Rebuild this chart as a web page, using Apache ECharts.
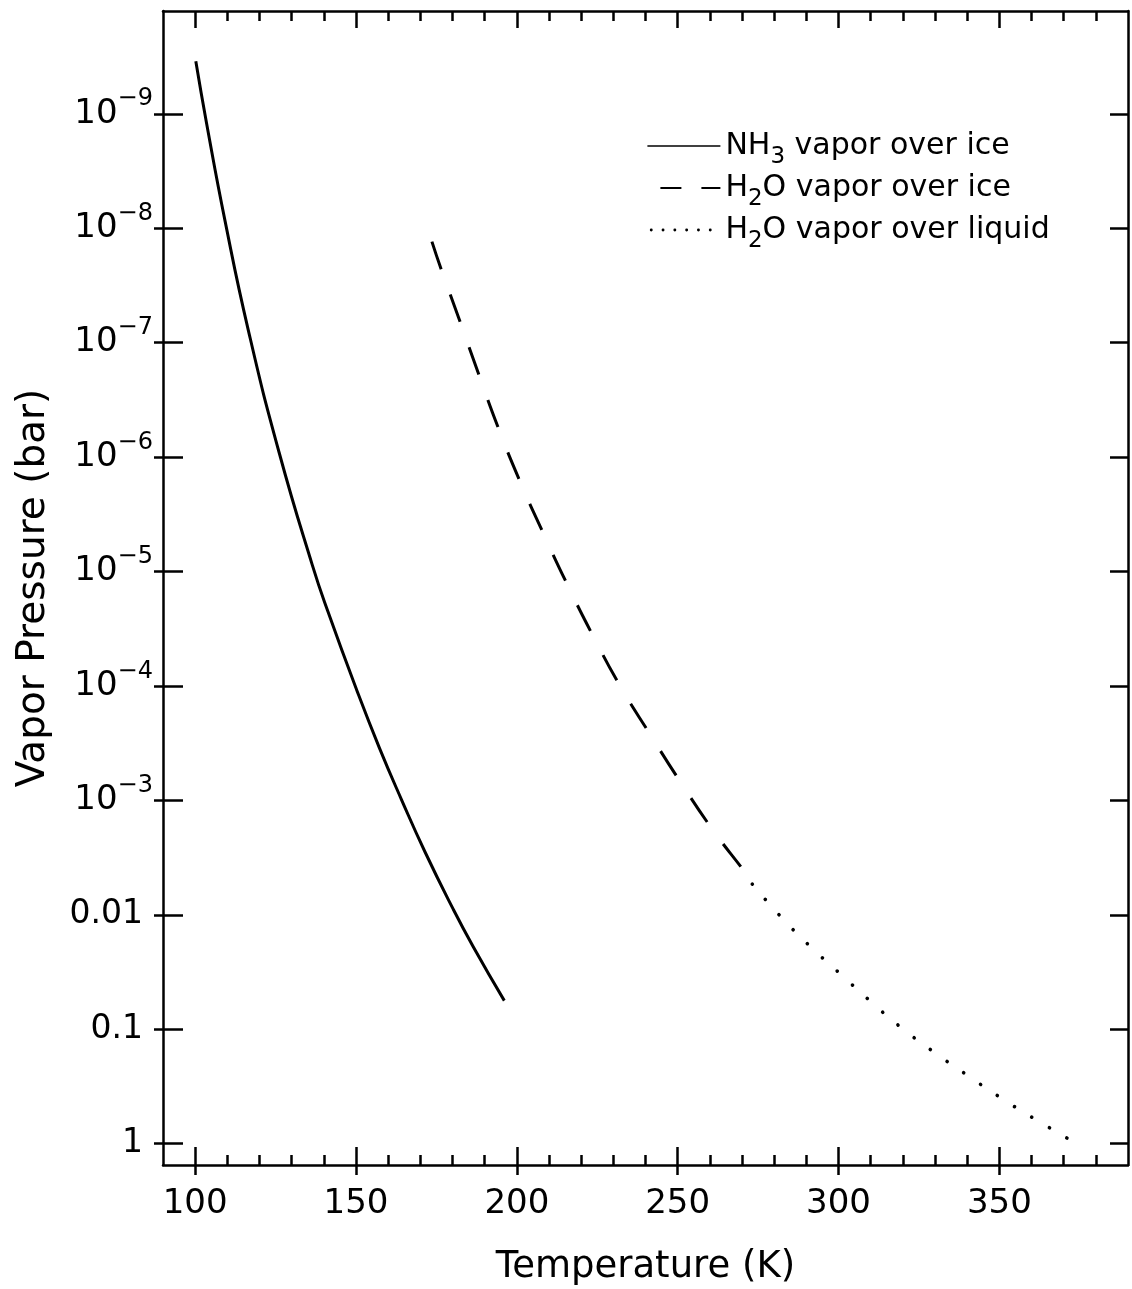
<!DOCTYPE html>
<html>
<head>
<meta charset="utf-8">
<script src="https://cdn.jsdelivr.net/npm/echarts@6/dist/echarts.min.js"></script>
<style>
html,body{margin:0;padding:0;background:#fff;}
#chart{width:1132px;height:1289px;}
</style>
</head>
<body>
<div id="chart"></div>
<script>
// ---- data ----
const seriesNames = ['NH3 vapor over ice', 'H2O vapor over ice', 'H2O vapor over liquid'];

const nh3Temperature = [100.2, 103.5, 109.3, 116.6, 126.1, 136.4, 141.3, 150.3, 157.3, 164.2, 171.5, 180.1, 186.4, 196.1];
const nh3Pressure    = [3.48e-10, 1.19e-9, 8.67e-9, 7.96e-8, 9.12e-7, 8.75e-6, 2.25e-5, 1.10e-4, 3.49e-4, 9.93e-4, 2.84e-3, 8.79e-3, 1.89e-2, 5.62e-2];

const h2oIceTemperature = [173.6, 176.4, 182.4, 188.2, 194.3, 201.1, 208.3, 215.7, 223.8, 232.2, 241.5, 251.0, 261.1, 271.9, 273.2];
const h2oIcePressure    = [1.31e-8, 2.25e-8, 6.62e-8, 1.91e-7, 5.62e-7, 1.66e-6, 4.68e-6, 1.30e-5, 3.70e-5, 1.01e-4, 2.67e-4, 7.01e-4, 1.84e-3, 4.63e-3, 5.4e-3];

const h2oLiquidTemperature = [273.2, 282.5, 291.3, 300.6, 309.8, 319.1, 329.2, 339.4, 349.7, 360.2, 371.1];
const h2oLiquidPressure    = [5.4e-3, 1.07e-2, 1.90e-2, 3.29e-2, 5.65e-2, 9.48e-2, 0.155, 0.245, 0.385, 0.589, 0.895];

const xRange = [90, 390];
const yRange = [1.265e-10, 1.535];
const xMajorTicks = [100, 150, 200, 250, 300, 350];
const xMinorTicks = [110, 120, 130, 140, 160, 170, 180, 190, 210, 220, 230, 240, 260, 270, 280, 290, 310, 320, 330, 340, 360, 370, 380];
const yTicks = [1e-9, 1e-8, 1e-7, 1e-6, 1e-5, 1e-4, 1e-3, 0.01, 0.1, 1];
const yTickLabels = ['10^\u22129', '10^\u22128', '10^\u22127', '10^\u22126', '10^\u22125', '10^\u22124', '10^\u22123', '0.01', '0.1', '1'];

// ---- chart ----
const FONT = 'DejaVu Sans';
const BLACK = '#000';
const zip = (a, b) => a.map((v, i) => [v, b[i]]);

function yLabel(value) {
  const e = Math.round(Math.log10(value));
  const idx = yTicks.findIndex(t => Math.round(Math.log10(t)) === e);
  if (idx < 0) return '';
  const s = yTickLabels[idx];
  if (s.indexOf('^') >= 0) {
    const parts = s.split('^');
    return '{b|' + parts[0] + '}{p|' + parts[1] + '}';
  }
  return '{n|' + s + '}';
}
function legendLabel(name) {
  if (name.indexOf('NH3') === 0) return '{n|NH}{s|3}{n|' + name.slice(3) + '}';
  return '{n|H}{s|2}{n|' + name.slice(2) + '}';
}

const tickStyle = {color: BLACK, width: 2.5};
const xBase = {type: 'value', min: xRange[0], max: xRange[1], splitLine: {show: false},
  axisLine: {show: false, onZero: false}, axisLabel: {show: false}, axisTick: {show: false}};
const yBase = {type: 'log', logBase: 10, min: yRange[0], max: yRange[1], inverse: true, splitLine: {show: false},
  axisLine: {show: false, onZero: false}, axisLabel: {show: false}, axisTick: {show: false}};

const option = {
  animation: false,
  backgroundColor: '#fff',
  grid: {left: 163, right: 4, top: 11, bottom: 124, containLabel: false, outerBoundsMode: 'none'},
  legend: {
    orient: 'vertical', left: 646, top: 127, padding: 0, itemGap: 0,
    itemWidth: 73, itemHeight: 12, align: 'left', selectedMode: false,
    formatter: legendLabel,
    itemStyle: {opacity: 0},
    textStyle: {
      color: BLACK, fontFamily: FONT,
      rich: {
        n: {fontSize: 30, fontFamily: FONT, color: BLACK, lineHeight: 38},
        s: {fontSize: 23, fontFamily: FONT, color: BLACK, lineHeight: 13, verticalAlign: 'top', padding: [19, 0, 0, 0]}
      }
    },
    data: [
      {name: seriesNames[0], itemStyle: {opacity: 0}, lineStyle: {width: 1.6}},
      {name: seriesNames[1], itemStyle: {opacity: 0}, lineStyle: {width: 2.2, type: [21, 20], dashOffset: 28}},
      {name: seriesNames[2], itemStyle: {opacity: 0}, lineStyle: {width: 2.8, type: [0.1, 11.7], dashOffset: 8, cap: 'round'}}
    ]
  },
  xAxis: [
    Object.assign({}, xBase, {
      position: 'bottom',
      axisLine: {show: true, onZero: false, lineStyle: {color: BLACK, width: 2.5}},
      axisTick: {show: true, inside: true, length: 18, customValues: xMajorTicks, lineStyle: tickStyle},
      axisLabel: {show: true, customValues: xMajorTicks, fontSize: 34, color: BLACK, fontFamily: FONT, margin: 22},
      name: 'Temperature (K)', nameLocation: 'middle', nameGap: 84,
      nameTextStyle: {fontSize: 37, color: BLACK, fontFamily: FONT}
    }),
    Object.assign({}, xBase, {position: 'bottom',
      axisTick: {show: true, inside: false, length: 10, customValues: xMajorTicks, lineStyle: tickStyle}}),
    Object.assign({}, xBase, {position: 'bottom',
      axisTick: {show: true, inside: true, length: 10, customValues: xMinorTicks, lineStyle: tickStyle}}),
    Object.assign({}, xBase, {position: 'top',
      axisLine: {show: true, onZero: false, lineStyle: {color: BLACK, width: 2.5}},
      axisTick: {show: true, inside: true, length: 17, customValues: xMajorTicks, lineStyle: tickStyle}}),
    Object.assign({}, xBase, {position: 'top',
      axisTick: {show: true, inside: true, length: 10, customValues: xMinorTicks, lineStyle: tickStyle}})
  ],
  yAxis: [
    Object.assign({}, yBase, {
      position: 'left',
      axisLine: {show: true, onZero: false, lineStyle: {color: BLACK, width: 2.5}},
      axisTick: {show: true, inside: true, length: 20, customValues: yTicks, lineStyle: tickStyle},
      axisLabel: {show: true, customValues: yTicks, formatter: yLabel, margin: 10, color: BLACK, fontFamily: FONT,
        rich: {
          b: {fontSize: 34, fontFamily: FONT, color: BLACK, lineHeight: 53},
          p: {fontSize: 24, fontFamily: FONT, color: BLACK, lineHeight: 18, verticalAlign: 'top'},
          n: {fontSize: 33, fontFamily: FONT, color: BLACK, padding: [0, 10, 0, 0]}
        }},
      name: 'Vapor Pressure (bar)', nameLocation: 'middle', nameGap: 110,
      nameTextStyle: {fontSize: 39, color: BLACK, fontFamily: FONT}
    }),
    Object.assign({}, yBase, {position: 'left',
      axisTick: {show: true, inside: false, length: 9, customValues: yTicks, lineStyle: tickStyle}}),
    Object.assign({}, yBase, {position: 'right',
      axisLine: {show: true, onZero: false, lineStyle: {color: BLACK, width: 2.5}},
      axisTick: {show: true, inside: true, length: 18, customValues: yTicks, lineStyle: tickStyle}})
  ],
  series: [
    {name: seriesNames[0], type: 'line', xAxisIndex: 0, yAxisIndex: 0, data: zip(nh3Temperature, nh3Pressure),
      symbol: 'none', smooth: true, color: BLACK, lineStyle: {color: BLACK, width: 3}},
    {name: seriesNames[1], type: 'line', xAxisIndex: 0, yAxisIndex: 0, data: zip(h2oIceTemperature, h2oIcePressure),
      symbol: 'none', smooth: true, color: BLACK, lineStyle: {color: BLACK, width: 3, type: [29, 27]}},
    {name: seriesNames[2], type: 'line', xAxisIndex: 0, yAxisIndex: 0, data: zip(h2oLiquidTemperature, h2oLiquidPressure),
      symbol: 'none', smooth: true, color: BLACK, lineStyle: {color: BLACK, width: 3.6, type: [0.1, 20.2], cap: 'round'}}
  ]
};

const chart = echarts.init(document.getElementById('chart'), null, {renderer: 'canvas'});
chart.setOption(option);
</script>
</body>
</html>
